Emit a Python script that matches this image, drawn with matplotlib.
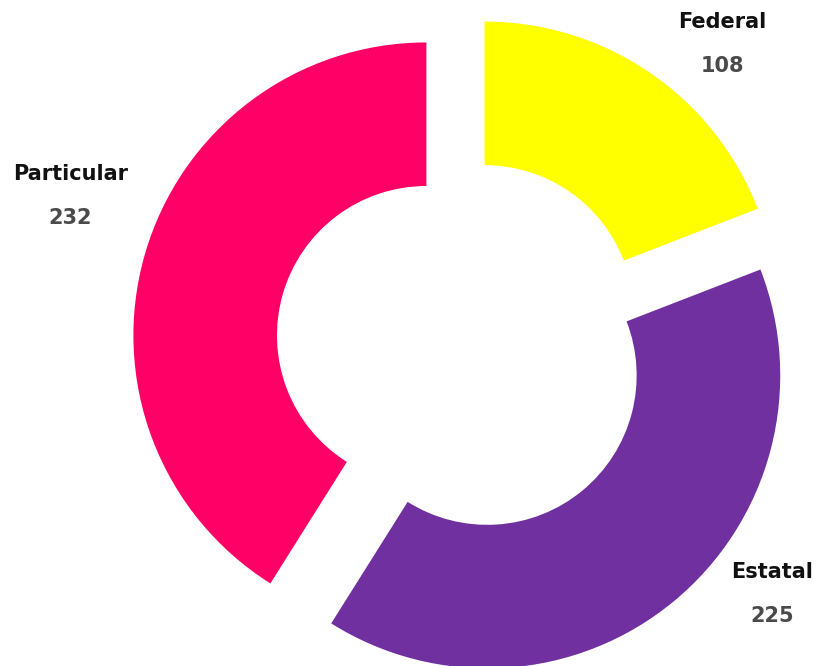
import matplotlib
matplotlib.use("Agg")
import matplotlib.pyplot as plt
import numpy as np

# data
categories = ["Federal", "Estatal", "Particular"]
values = [108, 225, 232]
colors = ["#FFFF00", "#7030A0", "#FF0066"]

# label anchors in figure fraction (layout only)
label_pos = {
    "Federal": (722.5 / 817, 1 - 22 / 666),
    "Estatal": (772 / 817, 1 - 572 / 666),
    "Particular": (70.5 / 817, 1 - 174 / 666),
}
value_dy = 44 / 666

plt.rcParams['font.family'] = ['DejaVu Sans']

fig = plt.figure(figsize=(8.17, 6.66), dpi=100)
ax = fig.add_axes([0, 0, 1, 1])

R = 293.0
cx, cy = 463.0, 346.0
ax.pie(values, colors=colors, startangle=90, counterclock=False,
       radius=1, explode=[0.13] * len(values),
       wedgeprops=dict(width=0.49, linewidth=0))
ax.set_xlim(-cx / R, (817 - cx) / R)
ax.set_ylim(-(666 - cy) / R, cy / R)
ax.set_aspect('equal')
ax.axis('off')

for name, val in zip(categories, values):
    x, y = label_pos[name]
    fig.text(x, y, name, ha='center', va='center', fontsize=15,
             fontweight='bold', color='#111111')
    fig.text(x, y - value_dy, str(val), ha='center', va='center',
             fontsize=15, fontweight='bold', color='#4a4a4a')

fig.savefig("out.png", dpi=100)
